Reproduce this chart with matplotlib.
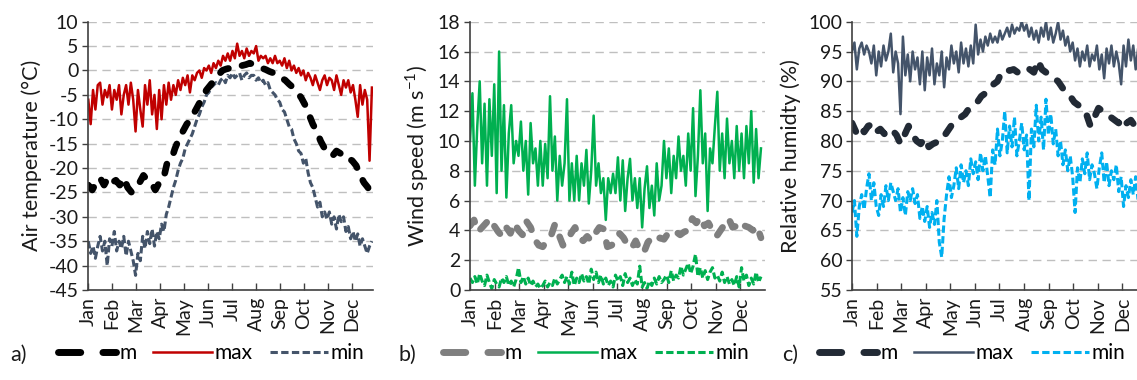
import numpy as np
import matplotlib
matplotlib.use('Agg')
import matplotlib.pyplot as plt
from matplotlib.lines import Line2D

plt.rcParams['font.family'] = ['Lato', 'DejaVu Sans']
plt.rcParams['mathtext.fontset'] = 'custom'
plt.rcParams['mathtext.rm'] = 'Lato'
plt.rcParams['axes.unicode_minus'] = False

# day of year of the samples: means every 5 days, max/min every 3 days
days5 = np.arange(0, 361, 5)
days3 = np.arange(0, 361, 3)

months = ['Jan', 'Feb', 'Mar', 'Apr', 'May', 'Jun',
          'Jul', 'Aug', 'Sep', 'Oct', 'Nov', 'Dec']

# a) air temperature (°C)
temp_m = [-23.5, -24.5, -23, -22, -23.5, -22, -23, -22.5, -23.5, -22, -24, -25, -24, -23, -21.5,
          -22.5, -23, -24.5, -23, -22.5, -19, -18.5, -16, -14, -12.5, -11, -10, -8.5, -7, -5.5,
          -4, -3, -2, -1, 0, 0.3, 0.5, 0.5, 0.8, 1, 1.2, 1.5, 1.2, 0.8, 0.5, 0.2, -0.2, -0.5,
          -0.8, -1.5, -2, -2.8, -3.5, -4.5, -5.5, -7, -9, -11, -12.5, -14.5, -16, -16.5, -17.5,
          -16.5, -17, -17, -18, -18.5, -19.5, -21.5, -23, -24, -26.5]
temp_max = [-6, -11, -4, -8, -3, -2.5, -7, -4, -5.5, -3, -8,
            -4, -6, -3, -9, -5, -3, -7, -2.5, -6,
            -12.5, -4, -8, -11.5, -3, -7, -2, -9, -5, -12,
            -4, -10, -3, -7, -2.5, -6, -3, -5, -2, -4,
            -1.5, -3, -1, -4.5, -1, -2, -0.5, 0, -1.5, 0.5,
            0, 1, -0.5, 1.5, 0.5, 2, 1, 3, 2, 3.5,
            2, 4, 2.5, 5.5, 3, 4, 2.5, 4.5, 3, 4,
            3.5, 5, 2, 3, 2.5, 3, 1.5, 2.5, 1.5, 3,
            1.5, 2, 1, 2.5, 0.5, 2, 0, 1, -0.5, 0.5,
            -1, 0, -2, -0.5, -1.5, -3, -1, -2.5, -4, -2,
            -1, -3, -1.5, -2, -4, -1, -3, -5, -2, -3.5,
            -2, -4.5, -3, -6, -9.5, -3, -7, -4, -6, -18.5, -3.5]
temp_min = [-35, -37.5, -36, -38.5, -36, -34, -37, -35, -40, -34.5, -36,
            -33, -37, -35, -36.5, -34, -38, -35, -37, -39,
            -42, -37.5, -39, -34, -36.5, -33, -35.5, -32.5, -36, -33,
            -34.5, -31.5, -33, -29.5, -28, -26, -24, -22.5, -20.5, -19,
            -18, -16, -15, -14, -13, -11.5, -10, -9, -7.5, -6.5,
            -5, -4.5, -3.5, -3, -2.5, -3, -2, -1.5, -2.5, -1,
            -1.5, -0.5, -1.5, -1, -0.5, -2, -1, -0.5, -1.5, -1,
            -1, -2, -1.5, -2.5, -2, -3, -2.5, -4, -4.5, -5,
            -6, -6.5, -8, -8.5, -10, -11.5, -12, -14, -15, -16.5,
            -17, -19, -18, -21, -23, -24, -26, -28, -27, -30,
            -29, -30.5, -29, -31.5, -30, -32.5, -29.5, -31, -30, -33,
            -32, -34.5, -33, -35, -33.5, -36, -34.5, -36, -37.5, -36, -35]

# b) wind speed (m/s)
wind_m = [4.3, 4.7, 3.9, 4.2, 4.5, 4.8, 4.3, 3.9, 3.6, 4.2, 3.8, 4.5, 4.0, 3.7, 4.6, 4.2, 3.4,
          3.0, 2.9, 3.3, 3.6, 4.4, 3.7, 3.0, 3.2, 3.8, 4.2, 3.5, 3.3, 3.6, 3.3, 3.8, 4.2, 4.1,
          2.9, 3.0, 3.2, 3.8, 3.5, 3.0, 2.8, 3.3, 2.7, 2.5, 3.2, 3.5, 3.3, 3.5, 3.4, 3.8, 4.0,
          3.9, 3.7, 3.9, 4.0, 4.8, 4.5, 4.9, 4.3, 4.5, 4.0, 3.6, 4.0, 4.4, 4.8, 4.2, 4.3, 4.0,
          4.3, 4.2, 4.0, 4.3, 3.5]
wind_max = [10, 13.2, 7, 11, 14, 8.5, 12.5, 7, 12.8, 9, 13.8,
            6.5, 16, 8, 12.4, 6.2, 10.5, 12.4, 8.5, 10,
            9, 11.3, 8, 10, 6.4, 11.2, 8.5, 9.5, 7, 10,
            7, 9.8, 7.5, 13, 8, 10.3, 6, 9, 7, 8.5,
            12.8, 6, 8.5, 6, 9, 6, 8.5, 7, 9.4, 5.8,
            8, 11.7, 7, 8.5, 6.5, 7.5, 4.7, 7.5, 6.5, 7.8,
            6.5, 8.9, 6, 8.7, 5.3, 7.5, 8.8, 6, 7.5, 5.5,
            7.5, 4.2, 6.8, 8.3, 5.5, 7, 5, 8.5, 6, 7,
            10, 7.5, 9.5, 6.5, 9, 7.5, 10.3, 8, 9, 7,
            10.5, 8, 12.2, 6.3, 9, 13.4, 8.5, 10.5, 5.3, 9.5,
            8.5, 11, 13.3, 8, 10.5, 7.5, 11.5, 8.5, 10, 7.5,
            11, 8, 10.5, 7.5, 11, 8.5, 12, 7.2, 10.8, 7.5, 9.5]
wind_min = [0.8, 0.5, 0.9, 0.4, 1.1, 0.6, 0.3, 1.0, 0.5, 0.1, 0.7,
            0.4, 0.2, 0.8, 0.5, 0.9, 0.3, 0.6, 0.2, 0.7,
            1.5, 0.5, 0.9, 0.4, 0.8, 0.3, 0.6, 0.2, 0.4, 0.1,
            0.3, 0.6, 0.2, 0.5, 0.3, 0.8, 0.4, 0.7, 1.0, 0.5,
            0.9, 0.4, 1.2, 0.3, 0.8, 0.5, 1.1, 0.6, 0.9, 0.4,
            1.4, 0.7, 1.2, 0.5, 1.0, 0.4, 0.8, 0.3, 0.6, 0.2,
            1.0, 0.6, 0.9, 0.3, 1.1, 0.5, 0.8, 0.3, 0.7, 0.4,
            1.6, 0.2, 0.5, 0.1, 0.6, 0.3, 0.8, 0.4, 0.9, 0.5,
            0.7, 1.0, 0.5, 1.3, 0.6, 1.0, 0.8, 1.6, 1.0, 1.4,
            1.8, 1.1, 1.6, 2.4, 0.9, 1.5, 0.8, 1.3, 0.7, 1.2,
            1.5, 0.8, 1.0, 0.6, 1.2, 0.5, 0.9, 0.4, 0.7, 0.3,
            0.9, 0.2, 1.5, 0.6, 1.0, 0.3, 0.8, 0.4, 1.2, 0.5, 0.9]

# c) relative humidity (%)
rh_m = [83, 81.5, 82.5, 81.5, 82.5, 82.8, 81.5, 82, 81.2, 82, 81.8, 81, 79.5, 81, 82.5, 81, 80,
        79.5, 80.5, 79, 79.5, 79.8, 80, 81, 82, 83, 83.5, 84, 84.5, 85.5, 86, 86.5, 87.5, 88,
        89, 89.5, 90, 91.5, 92, 91.8, 92, 91.5, 92, 92.3, 92, 91.5, 93.5, 92, 91.5, 91, 90.5,
        90, 89, 88, 87.5, 86.5, 86, 85, 84.5, 82.5, 84, 85.5, 85, 84.5, 84, 83.5, 83, 84, 83,
        83.5, 82.5, 83.5, 83]
rh_max = [95, 96.5, 92, 95.5, 96.5, 94.5, 96, 95, 93, 96, 91,
          95, 92.5, 96, 93.5, 95, 98, 91.5, 95, 93,
          84.5, 97.5, 91, 94.5, 90, 95, 92, 94, 89.5, 95,
          88.5, 94, 91, 95.5, 89.5, 93, 91, 95, 89, 94,
          92, 96, 93, 95, 91.5, 96.5, 93, 95.5, 92.5, 96,
          93, 99.5, 94.5, 97, 95, 97.5, 96, 98, 96.5, 97.5,
          96.5, 98.5, 97, 98, 99, 97.5, 99.5, 98, 99, 98.5,
          100, 98.5, 99.5, 97.5, 99, 97, 98.5, 96.5, 99, 97.5,
          100, 97, 99, 96.5, 98, 100, 97, 98.5, 96, 97.5,
          95, 96.5, 93.5, 95.5, 92.5, 95, 93.5, 96, 92.5, 94.5,
          93.5, 96, 92, 94.5, 90.5, 95.5, 93, 96, 92.5, 95,
          93, 89.5, 96, 92.5, 97, 93.5, 96, 92, 95.5, 93.5, 95]
rh_min = [68, 70, 64, 69, 71, 68.5, 72, 74.5, 70, 73, 69,
          67.5, 71, 69, 72.5, 70, 73, 71.5, 70, 72,
          68, 70.5, 67.5, 71.5, 70, 72, 69.5, 71, 67, 69,
          66.5, 69, 65.5, 68, 66, 70, 63, 60.5, 67, 71,
          74, 70.5, 72.5, 75.5, 72, 76, 73, 75, 72.5, 77,
          74.5, 76.5, 73.5, 78, 75, 77.5, 74, 70.5, 78.5, 76,
          82, 77.5, 80, 85, 78, 82.5, 79, 84, 77.5, 80,
          83, 78.5, 81, 70, 82, 79, 86, 80, 84, 78.5,
          87, 81, 84.5, 79.5, 82, 77.5, 80, 76, 78.5, 75,
          77.5, 74, 68, 75.5, 73, 77, 74.5, 78, 73.5, 76,
          74.5, 72, 75.5, 78, 73, 76.5, 72.5, 75, 73.5, 76,
          71.5, 74, 69, 72.5, 70.5, 73.5, 71, 74, 70, 72.5, 71.5]

W, H = 1137, 380
fig = plt.figure(figsize=(W / 100, H / 100), dpi=100)

GRID = '#BFBFBF'
TXT = '#1A1A1A'
M_DASH = (1.4, 2.1)
MIN_DASH = (2.4, 1.1)


def draw_panel(left_px, width_px, xmax, series, ylim, yticks, ylabel, tag, leg_x, tag_x):
    ax = fig.add_axes([left_px / W, 90 / H, width_px / W, 268.3 / H])
    (m, m_col), (mx, mx_col), (mn, mn_col) = series

    ax.plot(days3, mn, color=mn_col, lw=2.2, dashes=MIN_DASH)
    ax.plot(days3, mx, color=mx_col, lw=1.8)
    ax.plot(days5, m, color=m_col, lw=4.8, dashes=M_DASH,
            dash_capstyle='round', solid_capstyle='round')

    ax.set_xlim(0, xmax)
    ax.set_ylim(*ylim)
    ax.set_yticks(yticks)
    ax.set_yticklabels([str(t) for t in yticks])
    ax.set_xticks([i * 30.4 for i in range(12)])
    ax.set_xticklabels(months, rotation=90)
    ax.tick_params(axis='x', direction='in', length=5, width=1, color='#404040',
                   labelsize=14, labelcolor=TXT, pad=5)
    ax.tick_params(axis='y', direction='out', length=4, width=1, color='#404040',
                   labelsize=14, labelcolor=TXT, pad=3)
    for t in ax.get_xticklabels():
        t.set_verticalalignment('top')

    ax.grid(axis='y', color=GRID, lw=1, dashes=(6, 4))
    ax.set_axisbelow(True)
    for s in ['top', 'right']:
        ax.spines[s].set_visible(False)
    for s in ['left', 'bottom']:
        ax.spines[s].set_color('#404040')
        ax.spines[s].set_linewidth(1.2)
    ax.set_ylabel(ylabel, fontsize=15.5, color=TXT, labelpad=5)

    handles = [
        Line2D([], [], color=m_col, lw=5, dashes=(3.2, 3.2), dash_capstyle='round'),
        Line2D([], [], color=mx_col, lw=1.8),
        Line2D([], [], color=mn_col, lw=2.2, dashes=MIN_DASH),
    ]
    fig.legend(handles, ['m', 'max', 'min'], loc='center left',
               bbox_to_anchor=(leg_x / W, 1 - 353 / H), ncol=3, frameon=False,
               fontsize=15, handlelength=2.8, handletextpad=0.15,
               columnspacing=0.8, borderpad=0, borderaxespad=0)
    fig.text(tag_x / W, 1 - 355 / H, tag, fontsize=15.5, color=TXT, va='center', ha='left')
    return ax


draw_panel(88.3, 284.4, 361,
           [(temp_m, '#000000'), (temp_max, '#C00000'), (temp_min, '#44546A')],
           (-45, 10), list(range(-45, 11, 5)), 'Air temperature (°C)', 'a)', 58, 10)

draw_panel(470, 295, 365,
           [(wind_m, '#7F7F7F'), (wind_max, '#00B050'), (wind_min, '#00B050')],
           (0, 18), list(range(0, 19, 2)), 'Wind speed (m s$^{-1}$)', 'b)', 443, 398)

draw_panel(852, 295, 365,
           [(rh_m, '#222A35'), (rh_max, '#44546A'), (rh_min, '#00B0F0')],
           (55, 100), list(range(55, 101, 5)), 'Relative humidty (%)', 'c)', 819, 782)

fig.savefig('out.png', dpi=100)
